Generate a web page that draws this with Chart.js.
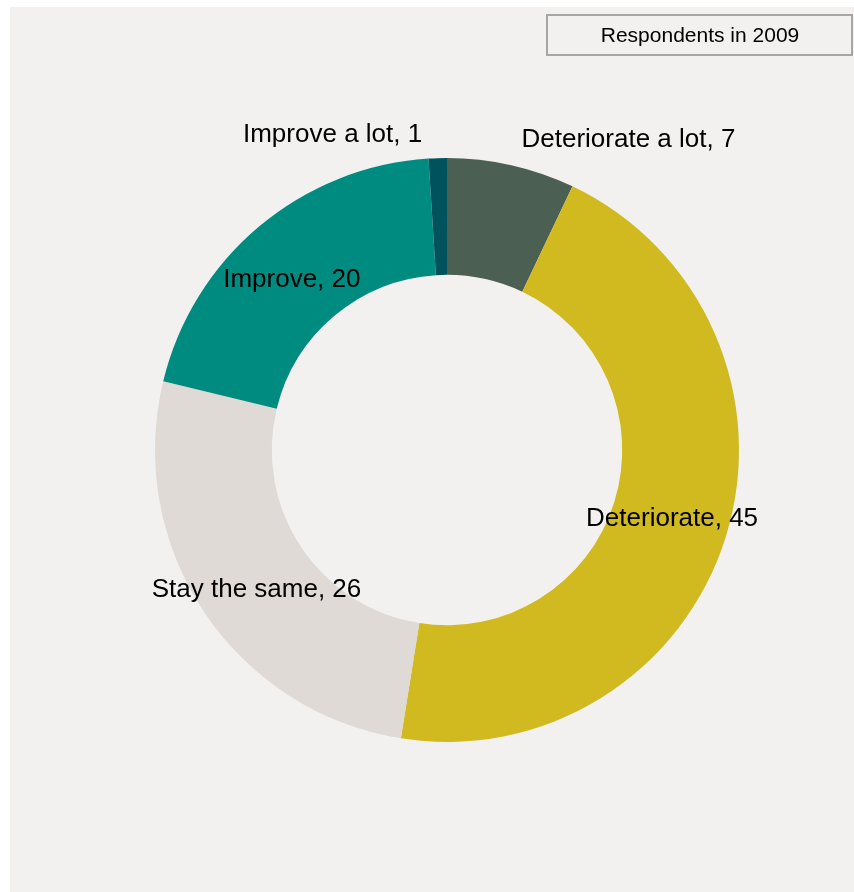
<!DOCTYPE html>
<html lang="en">
<head>
    <meta charset="UTF-8">
    <title>Respondents in 2009</title>
    <script src="https://cdn.jsdelivr.net/npm/chart.js"></script>
    <style>
        body { margin: 0; background: #ffffff; }
        #panel {
            position: absolute;
            left: 10px;
            top: 7px;
            width: 844px;
            height: 885px;
            background: #f2f1ef;
        }
    </style>
</head>
<body>
    <div id="panel">
        <canvas id="myChart"></canvas>
    </div>

    <script>
        // answers, clockwise from the top
        const categories = ['Deteriorate a lot', 'Deteriorate', 'Stay the same', 'Improve', 'Improve a lot'];
        const values = [7, 45, 26, 20, 1];
        const seriesName = 'Respondents in 2009';

        const colors = ['#4b6052', '#d1b920', '#dfdad6', '#008b80', '#00525c'];
        // nudges for the slice labels (small slices get theirs pushed outside the ring)
        const labelShift = [[130, -82], [2, -1], [4, 10], [-5, 9], [-107, -82]];

        const FONT = '"Liberation Sans", Arial, sans-serif';

        // "Name, value" labels placed at each slice's centre point
        const sliceLabels = {
            id: 'sliceLabels',
            afterDatasetsDraw(chart) {
                const ctx = chart.ctx;
                const meta = chart.getDatasetMeta(0);
                ctx.save();
                ctx.font = '26px ' + FONT;
                ctx.fillStyle = '#000000';
                ctx.textAlign = 'center';
                ctx.textBaseline = 'middle';
                meta.data.forEach((arc, i) => {
                    const p = arc.getCenterPoint();
                    const s = labelShift[i];
                    ctx.fillText(chart.data.labels[i] + ', ' + values[i], p.x + s[0], p.y + s[1]);
                });
                ctx.restore();
            }
        };

        // boxed series name in the top right corner
        const seriesBox = {
            id: 'seriesBox',
            afterDraw(chart) {
                const ctx = chart.ctx;
                ctx.save();
                ctx.strokeStyle = '#a6a6a6';
                ctx.lineWidth = 2;
                ctx.strokeRect(537, 8, 305, 40);
                ctx.font = '21px ' + FONT;
                ctx.fillStyle = '#000000';
                ctx.textAlign = 'center';
                ctx.textBaseline = 'middle';
                ctx.fillText(chart.data.datasets[0].label, 690, 29);
                ctx.restore();
            }
        };

        const ctx = document.getElementById('myChart').getContext('2d');
        const myChart = new Chart(ctx, {
            type: 'doughnut',
            data: {
                labels: categories,
                datasets: [{
                    label: seriesName,
                    data: values,
                    backgroundColor: colors,
                    borderWidth: 0,
                    hoverOffset: 0
                }]
            },
            options: {
                responsive: true,
                maintainAspectRatio: false,
                animation: false,
                cutout: '60%',
                layout: {
                    padding: { left: 145, right: 115, top: 151, bottom: 150 }
                },
                plugins: {
                    legend: { display: false },
                    tooltip: { enabled: false }
                }
            },
            plugins: [sliceLabels, seriesBox]
        });
    </script>
</body>
</html>
